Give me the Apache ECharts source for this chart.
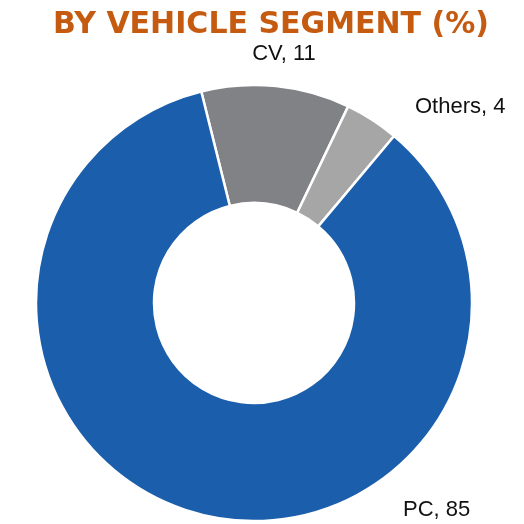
<!DOCTYPE html>
<html>
<head>
<meta charset="utf-8">
<script src="https://cdn.jsdelivr.net/npm/echarts@6/dist/echarts.min.js"></script>
<style>
  html, body { margin: 0; padding: 0; background: #fff; }
  #chart { width: 524px; height: 524px; }
</style>
</head>
<body>
<div id="chart"></div>
<script>
// Vehicle segment shares, in percent
const segments = ['CV', 'Others', 'PC'];
const shares = [11, 4, 85];
const colors = ['#818285', '#A6A6A6', '#1B5EAB'];

// Label anchor points for each segment (x, middle y) and alignment
const labelSpots = [
  { x: 284, y: 54, align: 'center' },
  { x: 415, y: 106.5, align: 'left' },
  { x: 403, y: 510, align: 'left' }
];

const chart = echarts.init(document.getElementById('chart'), null, { renderer: 'canvas' });

chart.setOption({
  animation: false,
  title: {
    text: 'BY VEHICLE SEGMENT (%)',
    left: 48,
    top: 5,
    textStyle: {
      fontFamily: 'DejaVu Sans',
      fontWeight: 'bold',
      fontSize: 30,
      color: '#C55A11'
    }
  },
  series: [{
    type: 'pie',
    center: [254, 303],
    radius: [100, 218],
    startAngle: 104,
    clockwise: true,
    avoidLabelOverlap: false,
    itemStyle: { borderColor: '#fff', borderWidth: 2.5 },
    label: {
      show: true,
      formatter: p => p.name + ', ' + p.value,
      fontFamily: '"Liberation Sans", Arial, sans-serif',
      fontSize: 22,
      color: '#111'
    },
    labelLine: { show: false },
    labelLayout: p => {
      const s = labelSpots[p.dataIndex];
      return { x: s.x, y: s.y, align: s.align, verticalAlign: 'middle' };
    },
    data: segments.map((n, i) => ({ name: n, value: shares[i], itemStyle: { color: colors[i] } }))
  }]
});
</script>
</body>
</html>
